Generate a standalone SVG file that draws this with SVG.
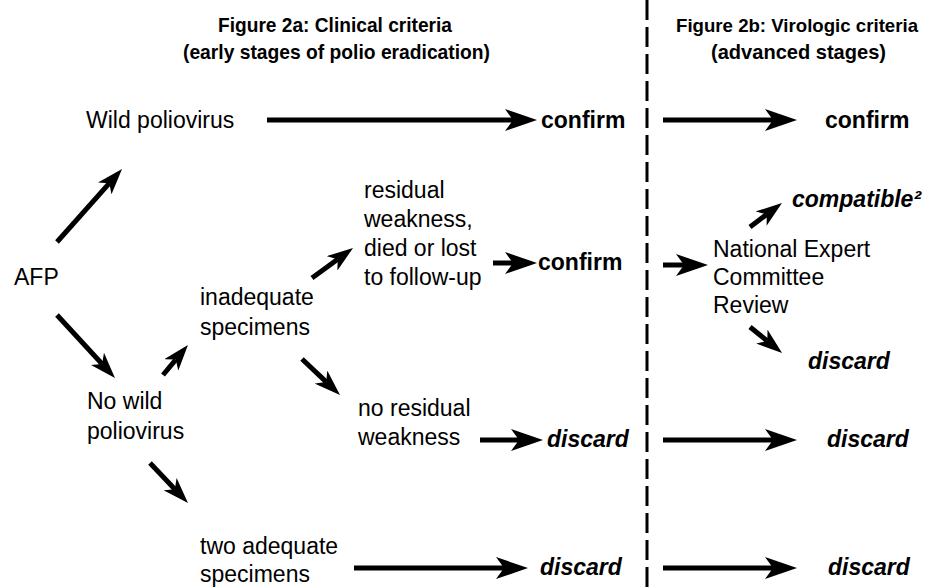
<svg xmlns="http://www.w3.org/2000/svg" width="929" height="587" viewBox="0 0 929 587">
<style>
text{font-family:"Liberation Sans",Arial,sans-serif;font-size:23px;fill:#000}
.t{font-weight:bold;font-size:21px}
.t2{font-weight:bold;font-size:19px}
.b{font-weight:bold}
.bi{font-weight:bold;font-style:italic}
.a{stroke:#000;stroke-width:5;fill:none;marker-end:url(#hd)}
.d{stroke:#000;stroke-width:5;fill:none;marker-end:url(#hs)}
</style>
<defs>
<marker id="hd" markerUnits="userSpaceOnUse" markerWidth="32" markerHeight="22" viewBox="0 0 32 22" refX="8" refY="11" orient="auto"><path d="M0,0 L32,11 L0,22 L8,11 Z" fill="#000"/></marker>
<marker id="hs" markerUnits="userSpaceOnUse" markerWidth="26" markerHeight="18" viewBox="0 0 26 18" refX="7" refY="9" orient="auto"><path d="M0,0 L26,9 L0,18 L7,9 Z" fill="#000"/></marker>
</defs>
<g id="titles">
<text class="t" x="218" y="32" textLength="234" lengthAdjust="spacingAndGlyphs">Figure 2a: Clinical criteria</text>
<text class="t" x="183" y="59" textLength="307" lengthAdjust="spacingAndGlyphs">(early stages of polio eradication)</text>
<text class="t2" x="676" y="32" textLength="242" lengthAdjust="spacingAndGlyphs">Figure 2b: Virologic criteria</text>
<text class="t" x="711" y="59" textLength="175" lengthAdjust="spacingAndGlyphs">(advanced stages)</text>
</g>
<g id="divider"><line x1="647" y1="0" x2="647" y2="587" stroke="#000" stroke-width="3" stroke-dasharray="20 7"/></g>
<g id="afp"><text x="14" y="285">AFP</text></g>
<g id="wild"><text x="86" y="128">Wild poliovirus</text></g>
<g id="confirm1"><text class="b" x="541" y="128">confirm</text></g>
<g id="confirm1b"><text class="b" x="825" y="128">confirm</text></g>
<g id="nowild"><text x="87" y="409">No wild</text><text x="87" y="439">poliovirus</text></g>
<g id="inadequate"><text x="200" y="305">inadequate</text><text x="200" y="335">specimens</text></g>
<g id="residual"><text x="364" y="198">residual</text><text x="364" y="227">weakness,</text><text x="364" y="256">died or lost</text><text x="364" y="285">to follow-up</text></g>
<g id="confirm2"><text class="b" x="538" y="270">confirm</text></g>
<g id="nec"><text x="713" y="257">National Expert</text><text x="713" y="285">Committee</text><text x="713" y="313">Review</text></g>
<g id="compatible"><text class="bi" x="792" y="207">compatible²</text></g>
<g id="discard1"><text class="bi" x="808" y="369">discard</text></g>
<g id="noresidual"><text x="358" y="416">no residual</text><text x="358" y="445">weakness</text></g>
<g id="discard2"><text class="bi" x="547" y="447">discard</text></g>
<g id="discard2b"><text class="bi" x="827" y="447">discard</text></g>
<g id="twoadequate"><text x="200" y="554">two adequate</text><text x="200" y="582">specimens</text></g>
<g id="discard3"><text class="bi" x="540" y="575">discard</text></g>
<g id="discard3b"><text class="bi" x="828" y="575">discard</text></g>
<g id="connectors">
<line class="a" x1="267" y1="120" x2="513" y2="120"/>
<line class="a" x1="663" y1="120" x2="773" y2="120"/>
<line class="a" x1="493" y1="263" x2="513" y2="263"/>
<line class="a" x1="663" y1="265" x2="684" y2="265"/>
<line class="a" x1="480" y1="440" x2="519" y2="440"/>
<line class="a" x1="663" y1="440" x2="773" y2="440"/>
<line class="a" x1="354" y1="568" x2="504" y2="568"/>
<line class="a" x1="663" y1="568" x2="773" y2="568"/>
<line class="d" x1="57" y1="242" x2="109.4" y2="183.2"/>
<line class="d" x1="57" y1="315" x2="102.1" y2="364"/>
<line class="d" x1="163" y1="375" x2="175.8" y2="359.6"/>
<line class="d" x1="312" y1="278" x2="337.7" y2="259.2"/>
<line class="d" x1="302" y1="359" x2="326.2" y2="381.9"/>
<line class="d" x1="150" y1="463" x2="174.9" y2="489.2"/>
<line class="d" x1="750" y1="227" x2="766.8" y2="214.4"/>
<line class="d" x1="750" y1="327" x2="767.3" y2="341"/>
</g>
</svg>
